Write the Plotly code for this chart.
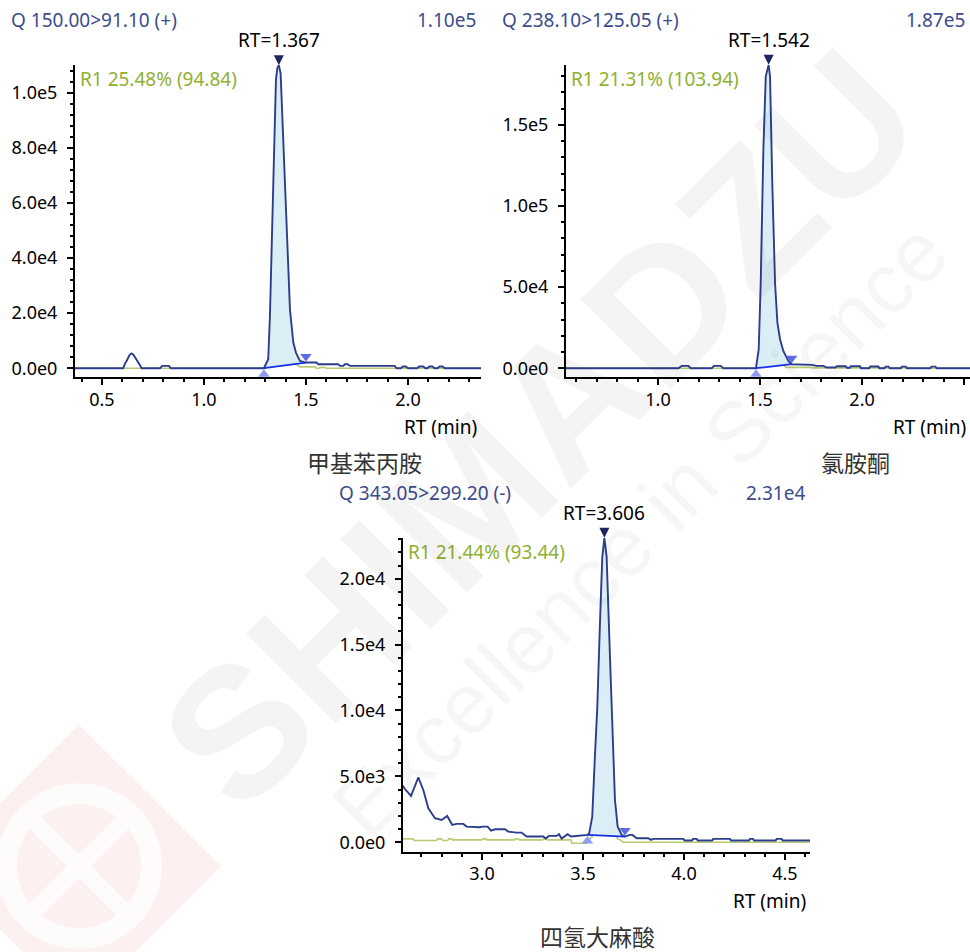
import plotly.graph_objects as go

W, H = 970, 952

# ---------------- 甲基苯丙胺  Q 150.00>91.10 (+) ----------------
meth_rt = [0.368, 0.604, 0.615, 0.621, 0.635, 0.645, 0.655, 0.67, 0.683, 0.695,
           0.785, 0.795, 0.828, 0.838,
           1.294, 1.315, 1.3235, 1.340, 1.353, 1.3595, 1.367, 1.3758, 1.397, 1.4134,
           1.4216, 1.438, 1.451, 1.4706, 1.50, 1.552, 1.560, 1.658, 1.667, 1.683,
           1.691, 1.703, 1.716, 1.935, 1.944, 1.965, 1.975, 1.99, 2.0, 2.045, 2.055,
           2.075, 2.085, 2.095, 2.105, 2.12, 2.13, 2.145, 2.155, 2.17, 2.18, 2.358]
meth_int = [0, 0, 2000, 2650, 4800, 5400, 4800, 3260, 1500, 0,
            0, 840, 840, 0,
            0, 3261, 18961, 67271, 104710, 108937, 110000, 107126, 67271, 31040,
            21377, 9300, 5676, 2657, 2053, 2053, 1449, 1449, 845, 845,
            1449, 1449, 845, 845, 0, 0, 600, 600, 0, 0, 600,
            600, 0, 0, 600, 600, 0, 0, 600, 600, 0, 0]
meth_ref_rt = [0.368, 1.300, 1.316, 1.324, 1.340, 1.353, 1.367, 1.376, 1.397, 1.413,
               1.438, 1.466, 1.47, 1.545, 1.55, 1.565, 1.575, 1.59, 1.60, 2.358]
meth_ref_int = [0, 0, 800, 4800, 17000, 26500, 28000, 27000, 17000, 7800,
                2300, 500, 500, 500, 0, 0, 300, 300, 0, 0]
meth_apex_rt = 1.367
meth_start = (1.294, 0)
meth_end = (1.50, 2053)
meth_yticks = [0, 20000, 40000, 60000, 80000, 100000]
meth_ylabels = ["0.0e0", "2.0e4", "4.0e4", "6.0e4", "8.0e4", "1.0e5"]
meth_info = ["Q 150.00>91.10 (+)", "1.10e5", "RT=1.367", "R1 25.48% (94.84)", "甲基苯丙胺"]

# ---------------- 氯胺酮  Q 238.10>125.05 (+) ----------------
ket_rt = [0.549, 1.0997, 1.116, 1.149, 1.160, 1.263, 1.2745, 1.307, 1.320,
          1.480, 1.4935, 1.5033, 1.5163, 1.528, 1.542, 1.549, 1.560, 1.5735, 1.585,
          1.598, 1.614, 1.639, 1.655, 1.70, 1.71, 1.735, 1.745, 1.755, 1.775, 1.81,
          1.827, 1.87, 1.876, 1.92, 1.925, 1.94, 1.945, 1.99, 1.995, 2.035, 2.04,
          2.08, 2.085, 2.11, 2.115, 2.13, 2.135, 2.19, 2.195, 2.215, 2.22, 2.335,
          2.34, 2.36, 2.365, 2.529]
ket_int = [0, 0, 1436, 1436, 0, 0, 1436, 1436, 0,
           0, 11692, 52720, 134770, 179900, 187000, 179900, 114260, 52720, 28100,
           17846, 10667, 4513, 2462, 2462, 2050, 2050, 2462, 2050, 1436, 1436,
           410, 410, 1200, 1200, 300, 300, 1200, 1200, 0, 0, 1100,
           1100, 0, 0, 1000, 1000, 0, 0, 1000, 1000, 0, 0,
           1000, 1000, 0, 0]
ket_ref_rt = [0.549, 1.482, 1.4935, 1.5033, 1.5163, 1.528, 1.542, 1.549, 1.560,
              1.5735, 1.585, 1.598, 1.614, 1.63, 1.75, 1.76, 2.25, 2.26, 2.529]
ket_ref_int = [0, 0, 2400, 11000, 28500, 38000, 39500, 38000, 24000,
               11000, 6000, 3700, 2200, 500, 500, 200, 200, 0, 0]
ket_apex_rt = 1.542
ket_start = (1.480, 0)
ket_end = (1.655, 2462)
ket_yticks = [0, 50000, 100000, 150000]
ket_ylabels = ["0.0e0", "5.0e4", "1.0e5", "1.5e5"]
ket_info = ["Q 238.10>125.05 (+)", "1.87e5", "RT=1.542", "R1 21.31% (103.94)", "氯胺酮"]

# ---------------- 四氢大麻酸  Q 343.05>299.20 (-) ----------------
thc_rt = [2.609, 2.6153, 2.6485, 2.6848, 2.7096, 2.7343, 2.7673, 2.8003, 2.828, 2.853,
          2.8746, 2.9076, 2.924, 2.957, 2.990, 3.0017, 3.028, 3.0446, 3.064, 3.114,
          3.130, 3.172, 3.196, 3.221, 3.3036, 3.315, 3.3317, 3.370, 3.381, 3.3944,
          3.411, 3.424, 3.4406, 3.522, 3.531, 3.546, 3.559, 3.571, 3.584, 3.5957,
          3.606, 3.6172, 3.6337, 3.645, 3.6584, 3.6716, 3.6914, 3.708, 3.7327, 3.745,
          3.766, 3.823, 3.837, 3.848, 3.997, 4.003, 4.04, 4.045, 4.063, 4.068,
          4.14, 4.145, 4.228, 4.233, 4.322, 4.327, 4.342, 4.347, 4.454, 4.459,
          4.484, 4.489, 4.624]
thc_int = [4300, 4091, 3510, 4924, 3965, 2576, 1818, 1692, 1995, 1313,
           1389, 1389, 1187, 1136, 1136, 1187, 1187, 884, 985, 985,
           808, 732, 732, 429, 429, 278, 480, 480, 606, 278,
           480, 606, 429, 556, 682, 1944, 6490, 10278, 16590, 21641,
           23100, 21641, 14066, 8510, 3207, 1187, 556, 429, 556, 556,
           303, 303, 177, 253, 253, 126, 126, 253, 253, 126,
           126, 253, 253, 126, 126, 253, 253, 126, 126, 253,
           253, 126, 126]
thc_ref_rt = [2.609, 2.66, 2.665, 2.775, 2.78, 2.80, 2.805, 2.83, 2.835, 2.85,
              2.855, 3.0, 3.005, 3.02, 3.025, 3.16, 3.165, 3.18, 3.185, 3.30,
              3.305, 3.32, 3.325, 3.44, 3.445, 3.52, 3.535, 3.546, 3.559, 3.571,
              3.584, 3.596, 3.606, 3.617, 3.634, 3.645, 3.658, 3.672, 3.683, 3.70,
              4.624]
thc_ref_int = [253, 253, 126, 126, 253, 253, 126, 126, 253, 253,
               177, 177, 253, 253, 177, 177, 253, 253, 177, 177,
               253, 253, 177, 177, -76, -76, 253, 420, 1400, 2200,
               3550, 4600, 4950, 4600, 3000, 1800, 690, 250, 177, 0,
               0]
thc_apex_rt = 3.606
thc_start = (3.522, 556)
thc_end = (3.708, 429)
thc_yticks = [0, 5000, 10000, 15000, 20000]
thc_ylabels = ["0.0e0", "5.0e3", "1.0e4", "1.5e4", "2.0e4"]
thc_info = ["Q 343.05>299.20 (-)", "2.31e4", "RT=3.606", "R1 21.44% (93.44)", "四氢大麻酸"]

# ---------------- styling ----------------
FONT = "Noto Sans, Open Sans, sans-serif"
CJK = "Noto Sans CJK SC, Noto Sans, sans-serif"
NAVY = "#2c3d8c"
FILL = "#dbedf5"
BASE = "#1530e8"
REF = "#b8cc74"
HEAD = "#3d4b8e"
GREEN_TXT = "#8fb030"
APEX = "#1b2560"


def px(x):
    return x / W


def py(y):
    return 1 - y / H


# pixel boxes of the three plot areas and their axis ranges
panels = [
    dict(x0=75, x1=481, top=65, bot=378, xr=[0.368, 2.358],
         yr=[-3261, 110145], minor=4000, hx=478, namex=364,
         rt=meth_rt, it=meth_int, rrt=meth_ref_rt, rit=meth_ref_int,
         apex=meth_apex_rt, start=meth_start, end=meth_end,
         yt=meth_yticks, yl=meth_ylabels, info=meth_info),
    dict(x0=566, x1=970, top=65, bot=378, xr=[0.549, 2.529],
         yr=[-5538, 187000], minor=10000, hx=967, namex=855,
         rt=ket_rt, it=ket_int, rrt=ket_ref_rt, rit=ket_ref_int,
         apex=ket_apex_rt, start=ket_start, end=ket_end,
         yt=ket_yticks, yl=ket_ylabels, info=ket_info),
    dict(x0=403, x1=810, top=539, bot=853.3, xr=[2.609, 4.624],
         yr=[-705, 23100], minor=1000, hx=807, namex=597,
         rt=thc_rt, it=thc_int, rrt=thc_ref_rt, rit=thc_ref_int,
         apex=thc_apex_rt, start=thc_start, end=thc_end,
         yt=thc_yticks, yl=thc_ylabels, info=thc_info),
]

fig = go.Figure()
annotations = []
layout_axes = {}

for k, p in enumerate(panels, start=1):
    xa = "x" if k == 1 else f"x{k}"
    ya = "y" if k == 1 else f"y{k}"
    per_px = (p["yr"][1] - p["yr"][0]) / (p["bot"] - p["top"])

    # reference ion trace
    fig.add_trace(go.Scatter(x=p["rrt"], y=p["rit"], mode="lines",
                             line=dict(color=REF, width=1.6),
                             xaxis=xa, yaxis=ya, hoverinfo="skip"))

    # integrated peak area between the trace and the baseline
    t0, b0 = p["start"]
    t1, b1 = p["end"]
    pk_x = [t for t in p["rt"] if t0 <= t <= t1]
    pk_y = [v for t, v in zip(p["rt"], p["it"]) if t0 <= t <= t1]
    fig.add_trace(go.Scatter(x=[t0] + pk_x + [t1, t0], y=[b0] + pk_y + [b1, b0],
                             mode="lines", fill="toself", fillcolor=FILL,
                             line=dict(width=0, color=FILL),
                             xaxis=xa, yaxis=ya, hoverinfo="skip"))

    # quantifier ion trace
    fig.add_trace(go.Scatter(x=p["rt"], y=p["it"], mode="lines",
                             line=dict(color=NAVY, width=1.9),
                             xaxis=xa, yaxis=ya, hoverinfo="skip"))

    # peak baseline
    fig.add_trace(go.Scatter(x=[t0, t1], y=[b0, b1], mode="lines",
                             line=dict(color=BASE, width=1.8),
                             xaxis=xa, yaxis=ya, hoverinfo="skip"))

    # peak start / end markers
    fig.add_trace(go.Scatter(
        x=[t0, t1],
        y=[b0 - 6 * per_px, b1 + 6 * per_px],
        mode="markers",
        marker=dict(symbol=["triangle-up", "triangle-down"],
                    size=10, color=["#8d9cf2", "#5d6be0"], line=dict(width=0)),
        xaxis=xa, yaxis=ya, hoverinfo="skip", cliponaxis=False))

    # apex marker: an arrow head pointing at the top of the peak
    apex_val = max(p["it"])
    annotations.append(dict(
        text="", x=p["apex"], y=apex_val, xref=xa, yref=ya,
        showarrow=True, ax=0, ay=-9, arrowhead=2, arrowsize=2, arrowwidth=1,
        arrowcolor=APEX, standoff=0))

    layout_axes["xaxis" if k == 1 else f"xaxis{k}"] = dict(
        domain=[px(p["x0"]), min(px(p["x1"]), 1.0)], anchor=ya, range=p["xr"],
        showline=True, linecolor="black", linewidth=2,
        ticks="outside", ticklen=6, tickwidth=1.5, tickcolor="black",
        tickmode="linear", tick0=0, dtick=0.5, tickformat=".1f",
        minor=dict(tickmode="linear", tick0=0, dtick=0.1, ticks="outside",
                   ticklen=3, tickwidth=1.5, tickcolor="black"),
        showgrid=False, zeroline=False, ticklabelstandoff=-1,
        tickfont=dict(family=FONT, size=18, color="black"))
    layout_axes["yaxis" if k == 1 else f"yaxis{k}"] = dict(
        domain=[py(p["bot"]), py(p["top"])], anchor=xa, range=p["yr"],
        showline=True, linecolor="black", linewidth=2,
        ticks="outside", ticklen=6, tickwidth=1.5, tickcolor="black",
        tickmode="array", tickvals=p["yt"], ticktext=p["yl"],
        minor=dict(tickmode="linear", tick0=0, dtick=p["minor"], ticks="outside",
                   ticklen=3, tickwidth=1.5, tickcolor="black"),
        showgrid=False, zeroline=False, ticklabelstandoff=6,
        tickfont=dict(family=FONT, size=18, color="black"))

    head, top_val, rt_txt, r1_txt, cname = p["info"]
    annotations += [
        dict(text=head, x=px(p["x0"] - 66), y=py(p["top"] - 45), xref="paper",
             yref="paper", xanchor="left", yanchor="middle", showarrow=False,
             font=dict(family=FONT, size=19, color=HEAD)),
        dict(text=top_val, x=px(p["hx"]), y=py(p["top"] - 45), xref="paper",
             yref="paper", xanchor="right", yanchor="middle", showarrow=False,
             font=dict(family=FONT, size=19, color=HEAD)),
        dict(text=rt_txt, x=p["apex"], y=py(p["top"] - 25), xref=xa,
             yref="paper", xanchor="center", yanchor="middle", showarrow=False,
             font=dict(family=FONT, size=19, color="black")),
        dict(text=r1_txt, x=px(p["x0"] + 3), y=py(p["top"] + 14), xref="paper",
             yref="paper", xanchor="left", yanchor="middle", showarrow=False,
             font=dict(family=FONT, size=19, color=GREEN_TXT)),
        dict(text="RT (min)", x=px(p["hx"] + 1), y=py(p["bot"] + 50), xref="paper",
             yref="paper", xanchor="right", yanchor="middle", showarrow=False,
             font=dict(family=FONT, size=19, color="black")),
        dict(text=cname, x=px(p["namex"]), y=py(p["bot"] + 85), xref="paper",
             yref="paper", xanchor="center", yanchor="middle", showarrow=False,
             font=dict(family=CJK, size=23, color="#333333")),
    ]

# faint company watermark, kept inside the page
annotations += [
    dict(text="<b>SHIMADZU</b>", x=px(540), y=py(430), xref="paper", yref="paper",
         xanchor="center", yanchor="middle", showarrow=False, textangle=-45,
         font=dict(family="Liberation Sans, Arial, sans-serif", size=185,
                   color="rgba(0,0,0,0.045)")),
    dict(text="Excellence in Science", x=px(640), y=py(531), xref="paper",
         yref="paper", xanchor="center", yanchor="middle", showarrow=False,
         textangle=-45,
         font=dict(family="Liberation Sans, Arial, sans-serif", size=85,
                   color="rgba(0,0,0,0.035)")),
]

cx, cy = 79, 868
shapes = [
    dict(type="path", xref="paper", yref="paper", layer="below",
         path=(f"M {px(cx)},{py(cy - 142)} L {px(cx + 142)},{py(cy)} "
               f"L {px(cx)},{py(cy + 142)} L {px(cx - 142)},{py(cy)} Z"),
         fillcolor="#fdf0f0", line=dict(width=0)),
    dict(type="circle", xref="paper", yref="paper", layer="below",
         x0=px(cx - 83), x1=px(cx + 83), y0=py(cy + 83), y1=py(cy - 83),
         fillcolor="#fefbfb", line=dict(width=0)),
    dict(type="circle", xref="paper", yref="paper", layer="below",
         x0=px(cx - 62), x1=px(cx + 62), y0=py(cy + 62), y1=py(cy - 62),
         fillcolor="#fdf0f0", line=dict(width=0)),
    dict(type="line", xref="paper", yref="paper", layer="below",
         x0=px(cx - 50), y0=py(cy - 50), x1=px(cx + 50), y1=py(cy + 50),
         line=dict(color="#fefbfb", width=17)),
    dict(type="line", xref="paper", yref="paper", layer="below",
         x0=px(cx - 50), y0=py(cy + 50), x1=px(cx + 50), y1=py(cy - 50),
         line=dict(color="#fefbfb", width=17)),
]

fig.update_layout(
    width=W, height=H, margin=dict(l=0, r=0, t=0, b=0),
    paper_bgcolor="white", plot_bgcolor="rgba(0,0,0,0)",
    showlegend=False, annotations=annotations, shapes=shapes,
    font=dict(family=FONT),
    **layout_axes,
)

fig.write_html("out.html")
